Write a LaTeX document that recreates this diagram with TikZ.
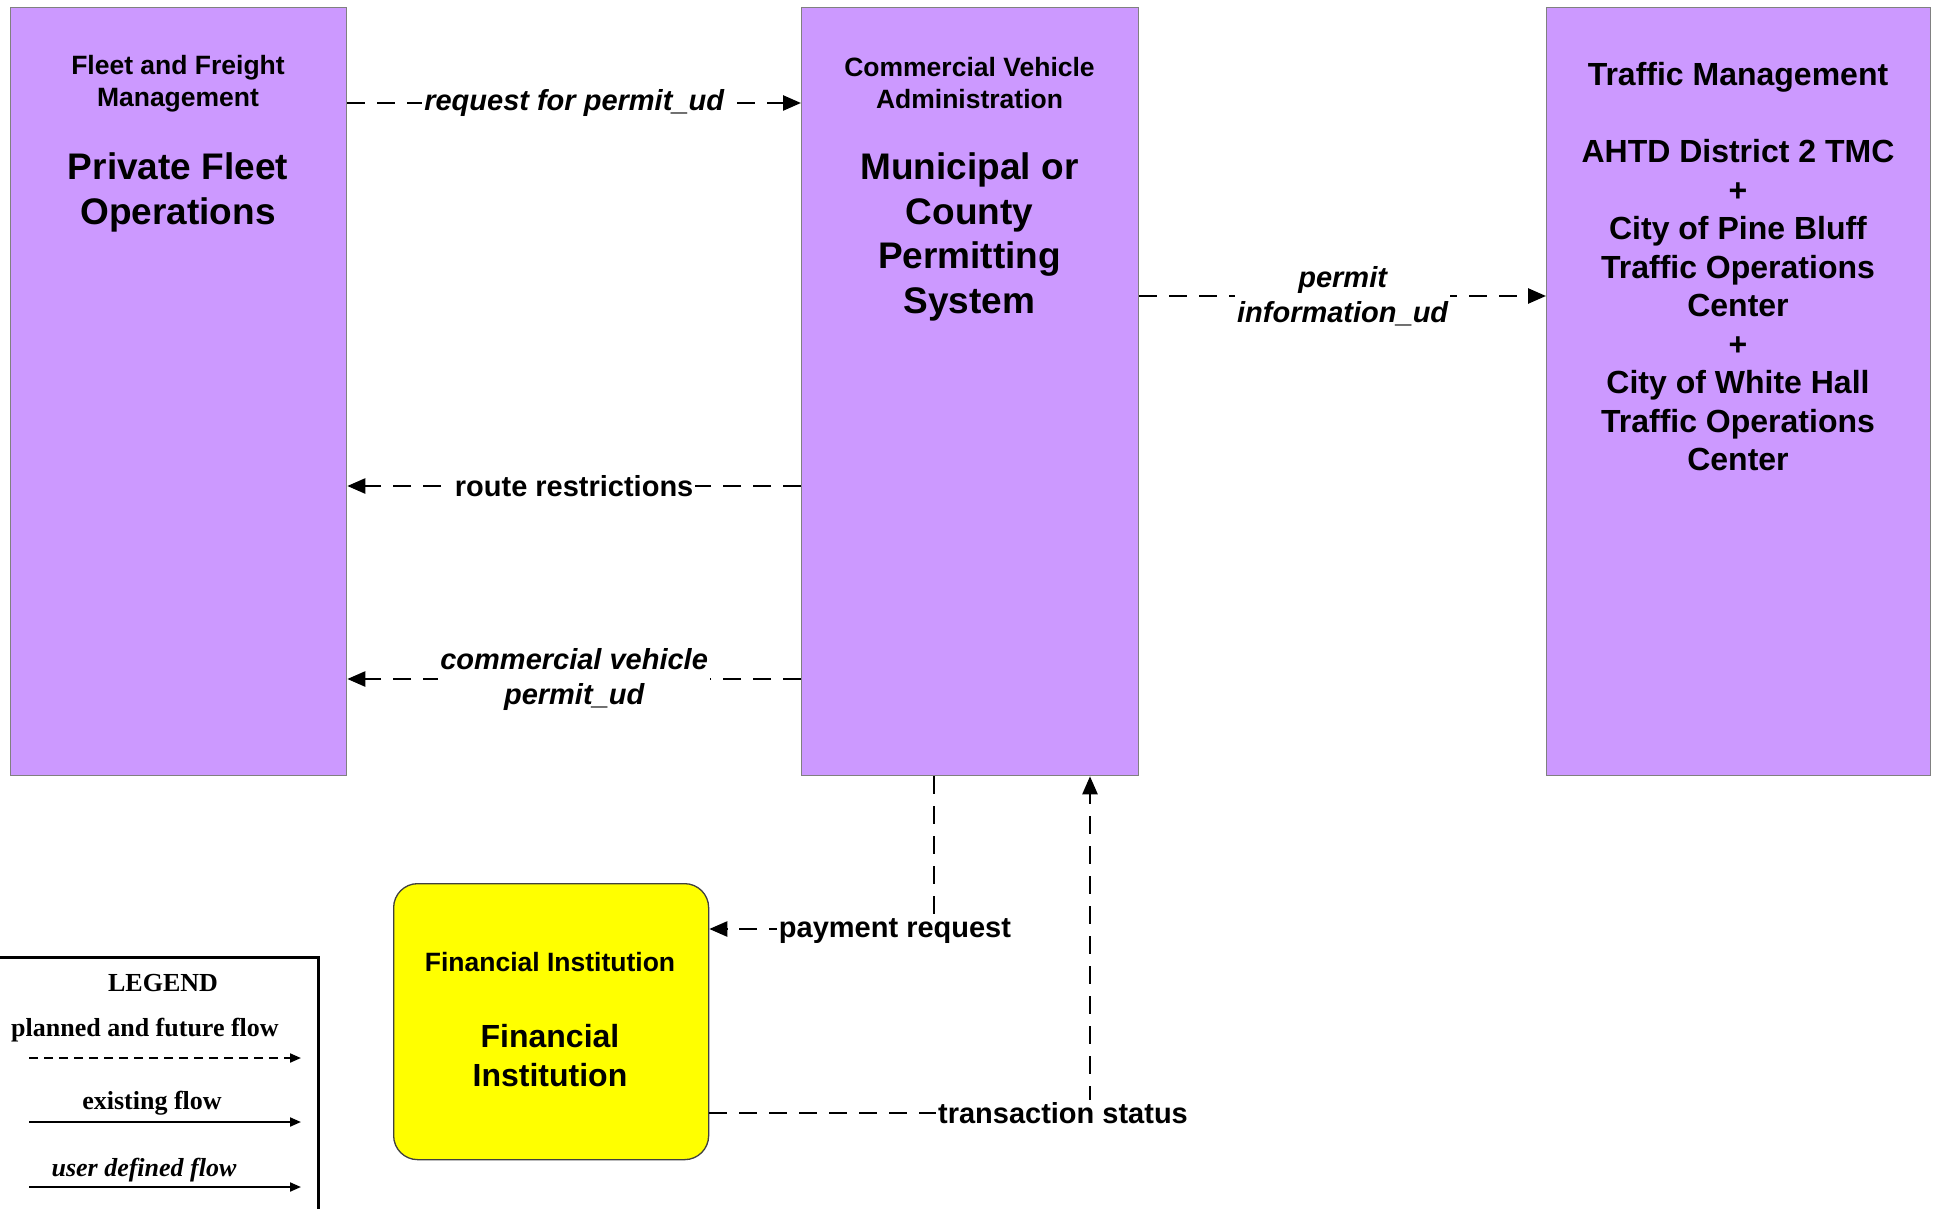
\documentclass[tikz,border=0pt]{standalone}
\usepackage{fontspec}
\setmainfont{Liberation Sans}
\newfontfamily\lserif{Liberation Serif}
\usetikzlibrary{arrows.meta}
\definecolor{boxpurple}{HTML}{CC99FF}
\definecolor{boxedge}{HTML}{808080}
\definecolor{finyellow}{HTML}{FFFF00}
\tikzset{
  sysbox/.style={draw=boxedge, line width=1.3pt, fill=boxpurple, anchor=north west, inner sep=0pt},
  finbox/.style={draw=black!75, line width=1.3pt, fill=finyellow, rounded corners=24pt, anchor=north west, inner sep=0pt},
  hdr/.style={align=center, font=\fontsize{26.5}{32}\selectfont\bfseries, inner sep=0pt},
  ttl/.style={align=center, font=\fontsize{37}{44.8}\selectfont\bfseries, inner sep=0pt},
  flow/.style={line width=2.5pt, dash pattern=on 18pt off 12pt, -{Triangle[length=18pt,width=15pt]}},
  lbl/.style={fill=white, inner sep=2pt, align=center, font=\fontsize{29}{35}\selectfont\bfseries},
  ilbl/.style={lbl, font=\fontsize{29}{35}\selectfont\bfseries\itshape},
  legtxt/.style={inner sep=0pt, font=\fontsize{26}{30}\selectfont\lserif\bfseries},
  legarrow/.style={line width=2pt, -{Triangle[length=11pt,width=9pt]}}
}
\begin{document}
\begin{tikzpicture}[x=1pt,y=-1pt]
\useasboundingbox (0,0) rectangle (1939,1209);
\fill[white] (0,0) rectangle (1939,1209);

% boxes
\node[sysbox, minimum width=336pt, minimum height=768pt] (fleet) at (10,7) {};
\node[sysbox, minimum width=337pt, minimum height=768pt] (cva) at (801,7) {};
\node[sysbox, minimum width=384pt, minimum height=768pt] (tm) at (1546,7) {};
\node[finbox, minimum width=315pt, minimum height=276pt] (fin) at (393,883) {};

% box texts
\node[hdr] (fleeth) at (178,83.5) {Fleet and Freight\\Management};
\node[ttl] (fleett) at (178,192.5) {Private Fleet\\Operations};
\node[hdr] (cvah) at (969.5,83) {Commercial Vehicle\\Administration};
\node[ttl] (cvat) at (969.5,237) {Municipal or\\County\\Permitting\\System};
\node[align=center, inner sep=0pt, font=\fontsize{32}{38.5}\selectfont\bfseries] (tmt) at (1738,267)
  {Traffic Management\\ \mbox{}\\AHTD District 2 TMC\\+\\City of Pine Bluff\\Traffic Operations\\Center\\+\\City of White Hall\\Traffic Operations\\Center};
\node[hdr] (finh) at (550,962) {Financial Institution};
\node[align=center, inner sep=0pt, font=\fontsize{32}{39}\selectfont\bfseries] (fint) at (550,1056) {Financial\\Institution};

% flows
\draw[flow] ([yshift=-96pt]fleet.north east) -- node[ilbl] (l1) {request for permit\_ud} ([yshift=-96pt]cva.north west);
\draw[flow] ([yshift=-289pt]cva.north east) -- node[ilbl] (l2) {permit\\information\_ud} ([yshift=-289pt]tm.north west);
\draw[flow] ([yshift=-479pt]cva.north west) -- node[lbl] (l3) {route restrictions} ([yshift=-479pt]fleet.north east);
\draw[flow] ([yshift=-672pt]cva.north west) -- node[ilbl] (l4) {commercial vehicle\\permit\_ud} ([yshift=-672pt]fleet.north east);
\draw[flow] ([xshift=133pt]cva.south west) |- node[lbl, pos=0.5, xshift=-39pt, yshift=-2pt] (l5) {payment request} ([yshift=-46pt]fin.north east);
\draw[flow] ([yshift=-230pt]fin.north east) -| node[lbl, pos=0.5, xshift=-27pt] (l6) {transaction status} ([xshift=289pt]cva.south west);

% legend
\node[draw=black, line width=2.5pt, anchor=north west, minimum width=323pt, minimum height=270pt, inner sep=0pt] (legend) at (-6,956) {};
\node[legtxt] (legt) at (163,983) {LEGEND};
\node[legtxt] (leg1) at (145,1030) {planned and future flow};
\node[legtxt] (leg2) at (152,1103) {existing flow};
\node[legtxt, font=\fontsize{26}{30}\selectfont\lserif\bfseries\itshape] (leg3) at (144,1170) {user defined flow};
\coordinate (la1) at (29,1058); \coordinate (lb1) at (301,1058);
\coordinate (la2) at (29,1122); \coordinate (lb2) at (301,1122);
\coordinate (la3) at (29,1187); \coordinate (lb3) at (301,1187);
\draw[legarrow, dash pattern=on 9pt off 6pt] (la1) -- (lb1);
\draw[legarrow] (la2) -- (lb2);
\draw[legarrow] (la3) -- (lb3);
\end{tikzpicture}
\end{document}
